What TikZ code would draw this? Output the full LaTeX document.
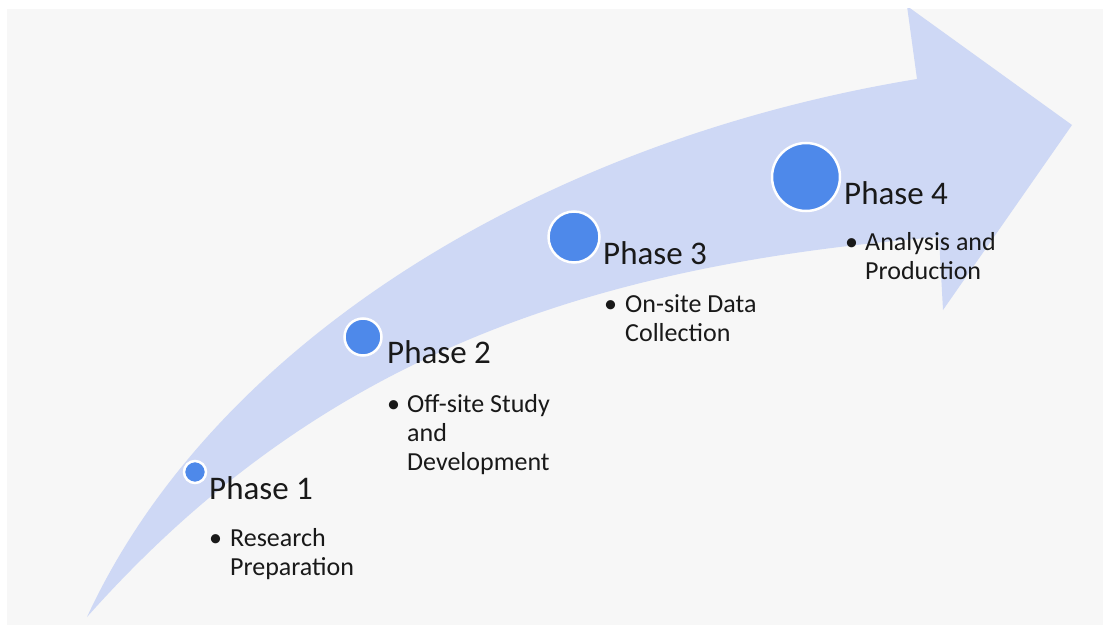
\documentclass[tikz,border=0pt]{standalone}
\usepackage{fontspec}
\setmainfont{Carlito}
\usepackage{tikz}

\definecolor{bandblue}{RGB}{206,216,245}
\definecolor{dotblue}{RGB}{78,137,234}
\definecolor{paper}{RGB}{247,247,247}
\definecolor{ink}{RGB}{25,25,25}

\begin{document}
\begin{tikzpicture}[x=1pt, y=-1pt]
    \tikzstyle{dot} = [circle, draw=white, line width=2.5pt, fill=dotblue, inner sep=0pt]
    \tikzstyle{phase} = [anchor=base west, inner sep=0pt, text=ink, font=\fontsize{33}{40}\selectfont]
    \tikzstyle{item} = [anchor=base west, inner sep=0pt, text=ink, align=left, font=\fontsize{26}{29}\selectfont]
    \tikzstyle{bul} = [anchor=base west, inner sep=0pt, text=ink, font=\fontsize{26}{29}\selectfont]
    \useasboundingbox (0,0) rectangle (1103,626);
    \fill[white] (0,0) rectangle (1103,626);
    \fill[paper] (7,9) rectangle (1103,625);
    % the curved arrow
    \begin{scope}
        \clip (7,9) rectangle (1103,625);
        \fill[bandblue] (87,617) .. controls (215,340) and (545,140) .. (917,79)
            -- (907,6) -- (1072,125) -- (943,310) -- (939,237)
            .. controls (590,265) and (320,355) .. (87,617) -- cycle;
    \end{scope}
    % milestones
    \node[dot, minimum size=22pt] (dot1) at (195,472) {};
    \node[dot, minimum size=37pt] (dot2) at (363,337) {};
    \node[dot, minimum size=51pt] (dot3) at (574,237) {};
    \node[dot, minimum size=68pt] (dot4) at (806,177) {};
    \node[phase] (ph1) at (209,499) {Phase 1};
    \node[phase] (ph2) at (387,363) {Phase 2};
    \node[phase] (ph3) at (603,264) {Phase 3};
    \node[phase] (ph4) at (844,204) {Phase 4};
    % bullets sit on the first line, item nodes are placed by their last line
    \foreach \x/\y in {209/546, 387/412, 604/312, 845/250}
        \node[bul] at (\x,\y) {\textbullet};
    \node[item] (it1) at (230,575) {Research\\Preparation};
    \node[item] (it2) at (407,470) {Off-site Study\\and\\Development};
    \node[item] (it3) at (625,341) {On-site Data\\Collection};
    \node[item] (it4) at (865,279) {Analysis and\\Production};
\end{tikzpicture}
\end{document}
